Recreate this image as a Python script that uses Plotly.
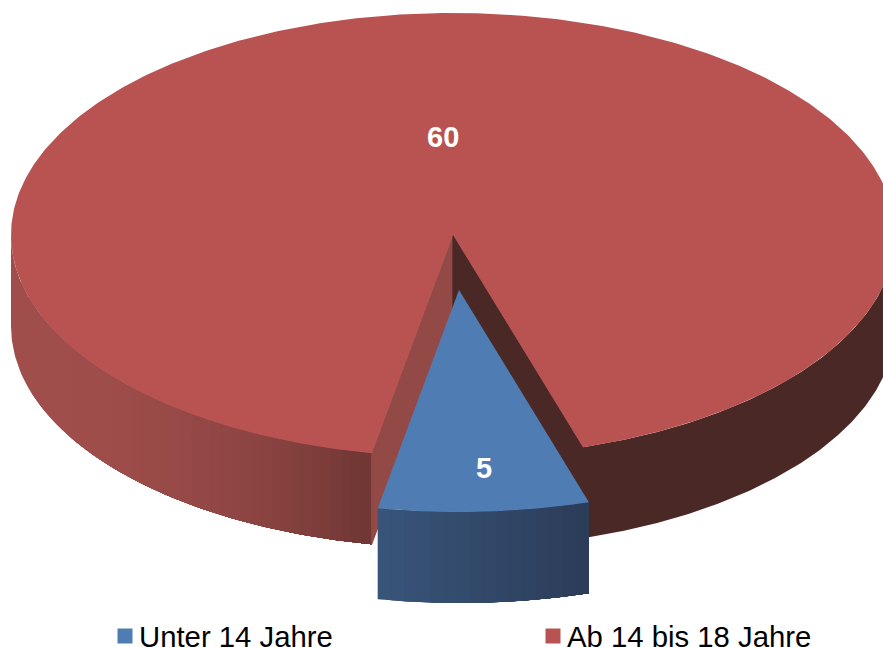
import numpy as np
import plotly.graph_objects as go

categories = ["Unter 14 Jahre", "Ab 14 bis 18 Jahre"]
values = [5, 60]
top_colors = ["#4F7DB3", "#B85352"]

W, H = 883, 647
CX, CY, RX, RY, DEPTH = 453, 235, 442, 222, 91
BLUE_OFFSET = (6, 55)
START = -10.6  # degrees from the bottom of the ellipse


def pt(phi, ox=0, oy=0, dz=0):
    p = np.radians(phi)
    return CX + ox + RX * np.sin(p), CY + oy + RY * np.cos(p) + dz


def arc(a, b, ox=0, oy=0, dz=0, n=200):
    return pt(np.linspace(a, b, n), ox, oy, dz)


def mix(c1, c2, t):
    rgb = [round(c1[i] + (c2[i] - c1[i]) * t) for i in range(3)]
    return f"rgb({rgb[0]},{rgb[1]},{rgb[2]})"


def poly(fig, x, y, color, lw=0):
    fig.add_trace(go.Scatter(
        x=list(x) + [x[0]], y=list(y) + [y[0]], mode="lines", fill="toself",
        fillcolor=color, line=dict(color=color, width=lw),
        hoverinfo="skip", showlegend=False))


def side(fig, a, b, ox, oy, colorfn, n):
    # bands of equal screen width; each one runs to the end of the wall and is
    # painted over by the next, so no seams show between them
    xa, xb = np.sin(np.radians(a)), np.sin(np.radians(b))
    fracs = np.linspace(0, 1, n + 1)[:-1]
    for f in fracs:
        e0 = np.degrees(np.arcsin(xa + (xb - xa) * f))
        tx, ty = arc(e0, b, ox, oy, 0, 120)
        bx, by = arc(b, e0, ox, oy, DEPTH, 120)
        poly(fig, np.r_[tx, bx], np.r_[ty, by], colorfn(f + 0.5 / n))


total = sum(values)
blue_end = START + 360 * values[0] / total
red_end = START + 360

fig = go.Figure()

# red body: outer wall
RED_L, RED_R = (160, 78, 75), (110, 54, 52)
side(fig, -90, START, 0, 0, lambda t: mix(RED_L, RED_R, t ** 2.2), 36)
side(fig, blue_end, 90, 0, 0, lambda t: "#4A2826", 1)

# red body: walls of the cut-out
lx, ly = pt(START)
rx, ry = pt(blue_end)
poly(fig, [CX, lx, lx, CX], [CY, ly, ly + DEPTH, CY + DEPTH], "#934A47", lw=1)
poly(fig, [CX, rx, rx, CX], [CY, ry, ry + DEPTH, CY + DEPTH], "#4A2826", lw=1.2)

# red top
ax, ay = arc(blue_end, red_end, n=500)
poly(fig, np.r_[CX, ax], np.r_[CY, ay], top_colors[1])

# blue slice, pulled out
ox, oy = BLUE_OFFSET
side(fig, START, blue_end, ox, oy, lambda t: mix((56, 85, 122), (44, 60, 88), t), 16)
ax, ay = arc(START, blue_end, ox, oy, n=80)
poly(fig, np.r_[CX + ox, ax], np.r_[CY + oy, ay], top_colors[0])

# value labels
for val, (x, y) in zip(values, [(484, 468), (443, 137)]):
    fig.add_annotation(x=x, y=y, text=f"<b>{val}</b>", showarrow=False,
                       font=dict(family="Liberation Sans", size=29, color="white"))

# legend
for name, color, mx, tx in zip(categories, top_colors, [125, 553], [137, 565]):
    fig.add_trace(go.Scatter(x=[mx], y=[636], mode="markers", name=name,
                             marker=dict(symbol="square", size=15, color=color),
                             hoverinfo="skip", showlegend=False))
    fig.add_annotation(x=tx, y=636, text=name, showarrow=False, xanchor="left",
                       font=dict(family="Liberation Sans", size=29.3, color="black"))

fig.update_layout(
    width=W, height=H, margin=dict(l=0, r=0, t=0, b=0),
    paper_bgcolor="white", plot_bgcolor="white", showlegend=False,
    xaxis=dict(range=[0, W], visible=False, fixedrange=True),
    yaxis=dict(range=[H, 0], visible=False, fixedrange=True),
)
fig.write_html("out.html", config={"displayModeBar": False},
               post_script="document.body.style.margin='0';document.body.style.overflow='hidden';")
